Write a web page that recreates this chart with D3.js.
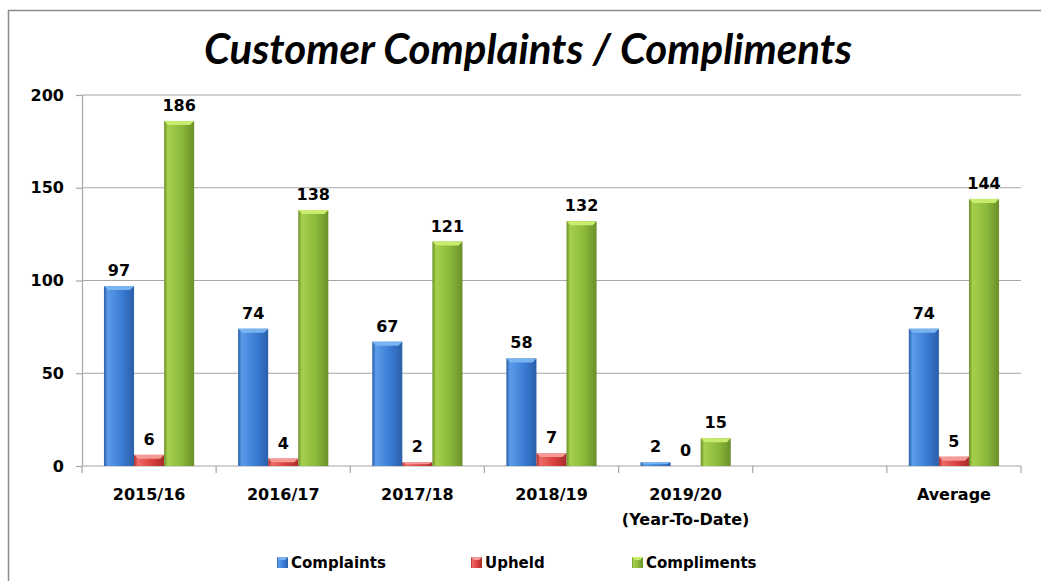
<!DOCTYPE html>
<html>
<head>
<meta charset="utf-8">
<script src="https://cdn.jsdelivr.net/npm/d3@7"></script>
<style>
  html, body { margin: 0; background: #fff; overflow: hidden; }
  svg { display: block; }
</style>
</head>
<body>
<svg id="chart" width="1041" height="581"></svg>
<script>
// chart data
const categories = ["2015/16", "2016/17", "2017/18", "2018/19", "2019/20", "", "Average"];
const subLabels = ["", "", "", "", "(Year-To-Date)", "", ""];
const complaints = [97, 74, 67, 58, 2, null, 74];
const upheld = [6, 4, 2, 7, 0, null, 5];
const compliments = [186, 138, 121, 132, 15, null, 144];
const seriesNames = ["Complaints", "Upheld", "Compliments"];
const yTicks = [0, 50, 100, 150, 200];

const series = [
    { name: seriesNames[0], values: complaints, base: "#3a7bd5", light: "#5b9be8", dark: "#2a5fa8", top: "#7ab4f0" },
    { name: seriesNames[1], values: upheld, base: "#d9413f", light: "#ee6a66", dark: "#a82c2a", top: "#f59a96" },
    { name: seriesNames[2], values: compliments, base: "#8ab83a", light: "#a6d04c", dark: "#6b8f2a", top: "#c8ec6e" }
];

const svg = d3.select("#chart");
const margin = { top: 95, right: 20, bottom: 115, left: 82 };
const width = 1041 - margin.left - margin.right;
const height = 581 - margin.top - margin.bottom;
const labelFont = "DejaVu Sans, sans-serif";

// outer frame (runs off the right and bottom edges)
svg.append("rect")
    .attr("x", 8.5).attr("y", 10.5)
    .attr("width", 1100).attr("height", 700)
    .attr("fill", "none")
    .attr("stroke", "#8c8c8c")
    .attr("stroke-width", 1.5);

// gradients for the bevelled bars
const defs = svg.append("defs");
series.forEach((s, i) => {
    const g = defs.append("linearGradient").attr("id", "grad" + i)
        .attr("x1", "0%").attr("x2", "100%").attr("y1", "0%").attr("y2", "0%");
    g.append("stop").attr("offset", "0%").attr("stop-color", s.dark);
    g.append("stop").attr("offset", "12%").attr("stop-color", s.light);
    g.append("stop").attr("offset", "60%").attr("stop-color", s.base);
    g.append("stop").attr("offset", "100%").attr("stop-color", s.dark);
});

const g = svg.append("g").attr("transform", `translate(${margin.left},${margin.top})`);

const x = d3.scaleBand()
    .domain(d3.range(categories.length))
    .range([0, width])
    .padding(0);

const x1 = d3.scaleBand()
    .domain(d3.range(series.length))
    .range([0, x.bandwidth()])
    .paddingOuter(0.73)
    .paddingInner(0);

const y = d3.scaleLinear()
    .domain([0, 200])
    .range([height, 0]);

// gridlines
g.selectAll(".grid")
    .data(yTicks.slice(1))
    .enter()
    .append("line")
    .attr("x1", 0).attr("x2", width)
    .attr("y1", d => y(d)).attr("y2", d => y(d))
    .attr("stroke", "#a6a6a6")
    .attr("stroke-width", 1.2);

// y axis
const yAxis = g.append("g")
    .call(d3.axisLeft(y).tickValues(yTicks).tickSize(6).tickPadding(12));
yAxis.select(".domain").attr("stroke", "#a6a6a6").attr("stroke-width", 1.2);
yAxis.selectAll(".tick line").attr("stroke", "#a6a6a6").attr("stroke-width", 1.2);
yAxis.selectAll("text")
    .style("font-family", labelFont)
    .style("font-weight", "bold")
    .style("font-size", "16px")
    .attr("fill", "#000");

// x axis with ticks at band edges
const xAxis = g.append("g").attr("transform", `translate(0,${height})`);
xAxis.append("line")
    .attr("x1", 0).attr("x2", width)
    .attr("stroke", "#a6a6a6").attr("stroke-width", 1.2);
xAxis.selectAll(".xtick")
    .data(d3.range(categories.length + 1))
    .enter()
    .append("line")
    .attr("x1", d => d * x.bandwidth()).attr("x2", d => d * x.bandwidth())
    .attr("y1", 0).attr("y2", 7)
    .attr("stroke", "#a6a6a6").attr("stroke-width", 1.2);

xAxis.selectAll(".xlabel")
    .data(categories)
    .enter()
    .append("text")
    .attr("x", (d, i) => x(i) + x.bandwidth() / 2)
    .attr("y", 34)
    .attr("text-anchor", "middle")
    .style("font-family", labelFont)
    .style("font-weight", "bold")
    .style("font-size", "16px")
    .text(d => d);

xAxis.selectAll(".xsub")
    .data(subLabels)
    .enter()
    .append("text")
    .attr("x", (d, i) => x(i) + x.bandwidth() / 2)
    .attr("y", 59)
    .attr("text-anchor", "middle")
    .style("font-family", labelFont)
    .style("font-weight", "bold")
    .style("font-size", "16px")
    .text(d => d);

// bars
series.forEach((s, si) => {
    const bars = g.append("g");
    const data = s.values.map((v, i) => ({ v, i })).filter(d => d.v !== null);

    bars.selectAll("rect.bar")
        .data(data)
        .enter()
        .append("rect")
        .attr("class", "bar")
        .attr("x", d => x(d.i) + x1(si))
        .attr("y", d => y(d.v))
        .attr("width", x1.bandwidth())
        .attr("height", d => height - y(d.v))
        .attr("fill", `url(#grad${si})`);

    // light top bevel
    bars.selectAll("path.bevel")
        .data(data.filter(d => d.v > 0))
        .enter()
        .append("path")
        .attr("class", "bevel")
        .attr("d", d => {
            const x0 = x(d.i) + x1(si), w = x1.bandwidth(), y0 = y(d.v);
            const b = Math.min(4, (height - y0) / 2);
            return `M${x0},${y0}L${x0 + w},${y0}L${x0 + w - 4},${y0 + b}L${x0 + 4},${y0 + b}Z`;
        })
        .attr("fill", s.top);

    // value labels
    bars.selectAll("text")
        .data(data)
        .enter()
        .append("text")
        .attr("x", d => x(d.i) + x1(si) + x1.bandwidth() / 2)
        .attr("y", d => y(d.v) - 10)
        .attr("text-anchor", "middle")
        .style("font-family", labelFont)
        .style("font-weight", "bold")
        .style("font-size", "16px")
        .text(d => d.v);
});

// title
svg.append("text")
    .attr("x", 528)
    .attr("y", 64)
    .attr("text-anchor", "middle")
    .style("font-family", "Lato, sans-serif")
    .style("font-weight", "bold")
    .style("font-style", "italic")
    .style("font-size", "42px")
    .text("Customer Complaints / Compliments");

// legend
const legendX = [277, 471, 632];
const legend = svg.append("g");
series.forEach((s, i) => {
    const item = legend.append("g").attr("transform", `translate(${legendX[i]},557)`);
    item.append("rect")
        .attr("width", 11).attr("height", 11)
        .attr("fill", `url(#grad${i})`);
    item.append("path")
        .attr("d", "M0,0L11,0L8,3L3,3Z")
        .attr("fill", s.top);
    item.append("text")
        .attr("x", 14)
        .attr("y", 11)
        .style("font-family", labelFont)
        .style("font-weight", "bold")
        .style("font-size", "15px")
        .text(s.name);
});
</script>
</body>
</html>
